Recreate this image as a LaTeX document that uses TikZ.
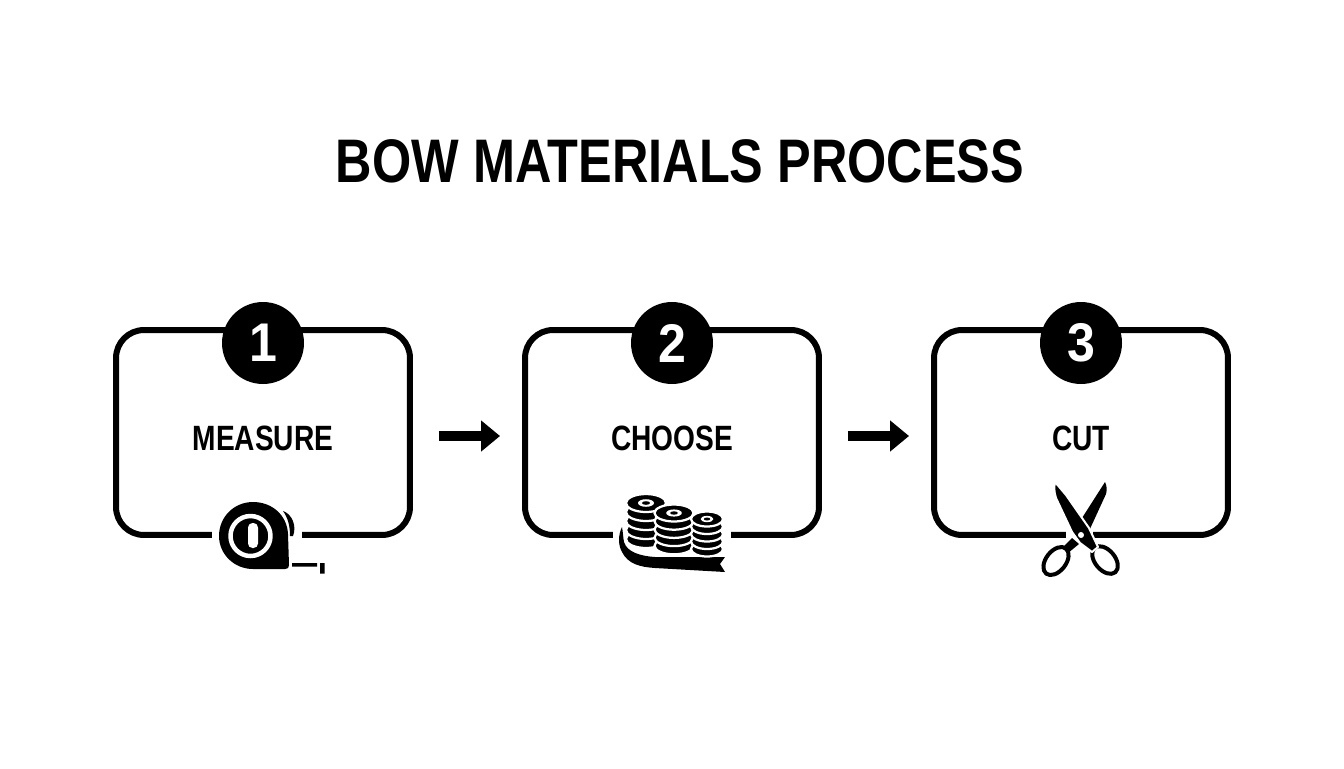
\documentclass[tikz,border=0pt]{standalone}
\usepackage{fontspec}
\setmainfont[FakeStretch=0.80]{Liberation Sans}
\newfontfamily\titlefont[FakeStretch=0.82]{Liberation Sans}
\newfontfamily\digitfont[FakeStretch=0.92]{Liberation Sans}
\usetikzlibrary{arrows.meta}
\tikzset{
	stepbox/.style={draw=black,line width=0.12cm,rounded corners=0.56cm,minimum width=5.88cm,minimum height=4.1cm,inner sep=0pt,fill=white},
	badge/.style={circle,fill=black,text=white,minimum size=1.64cm,inner sep=0pt,font=\digitfont\bfseries\fontsize{31}{34}\selectfont},
	steplabel/.style={inner sep=0pt,font=\bfseries\fontsize{20}{24}\selectfont},
	flowarrow/.style={line width=0.19cm,-{Triangle[length=0.38cm,width=0.6cm]},shorten <=0.52cm,shorten >=0.44cm},
	disc/.style={fill=black,draw=white,line width=0.045cm},
}
\begin{document}
\begin{tikzpicture}[x=0.02cm,y=-0.02cm,line join=round]
	\useasboundingbox (0,0) rectangle (1344,768);
	\node[inner sep=0pt,font=\titlefont\bfseries\fontsize{35}{40}\selectfont] (title) at (680,161) {BOW MATERIALS PROCESS};
	% boxes, badges, labels
	\foreach \n/\x/\t in {1/263/MEASURE,2/672/CHOOSE,3/1081/CUT}{
		\node[stepbox] (box\n) at (\x,432.5) {};
		\node[badge] (num\n) at (\x,343) {\n};
		\node[steplabel] (lab\n) at (\x,438) {\t};
	}
	\draw[flowarrow] ([yshift=-0.07cm]box1.east)--([yshift=-0.07cm]box2.west);
	\draw[flowarrow] ([yshift=-0.07cm]box2.east)--([yshift=-0.07cm]box3.west);
	% gaps in the bottom lines
	\foreach \a/\b in {212/302,613/731,1066/1093}
		\fill[white] (\a,528) rectangle (\b,542);
	% tape measure
	\fill[black] (253,502) .. controls (272,502) and (287,515) .. (288,534) -- (289,565) .. controls (289,568) and (288,569) .. (285,569) -- (253,569) .. controls (234,569) and (219,554) .. (219,536) .. controls (219,517) and (234,502) .. (253,502) -- cycle;
	\fill[black] (283,511) .. controls (292,514) and (297,526) .. (293,536) -- (290,536) .. controls (290,526) and (288,518) .. (283,511) -- cycle;
	\draw[white,line width=0.09cm] (250.5,536) circle (20);
	\fill[white,rounded corners=0.09cm] (248,523) rectangle (258,548);
	\fill[black] (292,563) rectangle (317,566.5) (320,563) rectangle (324.5,573.5);
	% ribbon and spools
	\fill[black] (622,527) .. controls (618,535) and (618,545) .. (622,552) .. controls (628,564) and (640,567) .. (655,568) -- (725,572) -- (720,564) -- (725,557) -- (655,557) .. controls (640,556) and (627,552) .. (624,542) .. controls (623,537) and (623,532) .. (622,527) -- cycle;
	\foreach \x/\y/\rx/\ry/\s in {646/503/20/9/9,674/513/19.5/8.5/8.2,707/519/16/7.5/7.5}{
		\foreach \i in {4,...,0}
			\draw[disc] (\x,\y+\s*\i) ellipse [x radius=\rx,y radius=\ry];
		\fill[white] (\x,\y) ellipse [x radius=\rx*0.4,y radius=\ry*0.42];
		\fill[black] (\x,\y) ellipse [x radius=\rx*0.2,y radius=\ry*0.2];
	}
	% scissors
	\draw[black,line width=0.08cm,rotate around={52:(1056,561)}] (1056,561) ellipse (16 and 10);
	\draw[black,line width=0.08cm,rotate around={-50:(1105,560)}] (1105,560) ellipse (16 and 10);
	\fill[black] (1105,482) .. controls (1107,486) and (1107,490) .. (1106,494) -- (1089,531) -- (1082,518) -- cycle;
	\fill[black] (1072,538) -- (1079,544) -- (1068,553) -- (1062,548) -- cycle;
	\fill[black,draw=white,line width=0.04cm] (1055,482) -- (1066,495) -- (1089,528) -- (1098,547) -- (1092,552) -- (1080,543) -- (1072,532) -- (1056,498) .. controls (1054,492) and (1054,487) .. (1055,482) -- cycle;
	\fill[white] (1081,535) circle (3);
\end{tikzpicture}
\end{document}
